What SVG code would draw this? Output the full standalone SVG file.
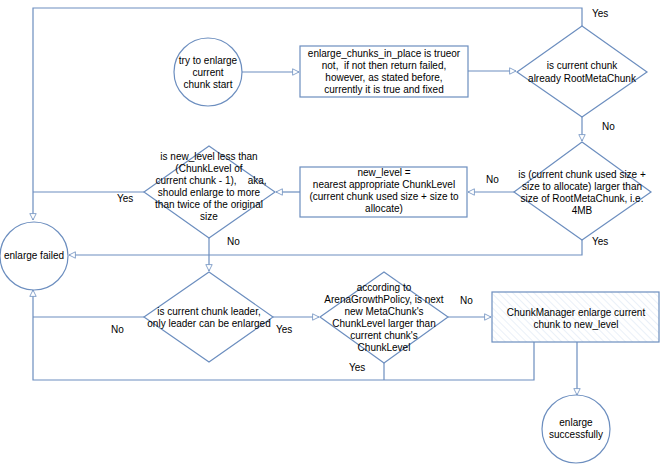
<svg xmlns="http://www.w3.org/2000/svg" width="660" height="464" viewBox="0 0 660 464">
<defs>
<marker id="arr" viewBox="0 0 10 10" refX="9" refY="5" markerWidth="8" markerHeight="8" orient="auto" markerUnits="userSpaceOnUse">
<path d="M1,1 L9,5 L1,9 z" fill="#fff" stroke="#6c8ebf" stroke-width="1"/>
</marker>
<pattern id="hatch" width="5" height="5" patternUnits="userSpaceOnUse" patternTransform="rotate(-45)">
<rect width="5" height="5" fill="#fff"/>
<line x1="0" y1="0" x2="0" y2="5" stroke="#dde6f4" stroke-width="1.2"/>
</pattern>
</defs>
<style>
.n{fill:#fff;stroke:#6c8ebf;stroke-width:1.2}
.c{fill:none;stroke:#6c8ebf;stroke-width:1.2}
.t{font-family:"Liberation Sans",Arial,sans-serif;font-size:10px;fill:#000;text-anchor:middle}
.l{font-family:"Liberation Sans",Arial,sans-serif;font-size:10px;fill:#000}
</style>
<g id="connectors">
<polyline class="c" points="582,26 582,8 33,8 33,220" marker-end="url(#arr)"/>
<line class="c" x1="242" y1="72" x2="299" y2="72" marker-end="url(#arr)"/>
<line class="c" x1="468" y1="71" x2="516" y2="71" marker-end="url(#arr)"/>
<line class="c" x1="582" y1="117" x2="582" y2="141" marker-end="url(#arr)"/>
<line class="c" x1="514" y1="192" x2="468" y2="192" marker-end="url(#arr)"/>
<line class="c" x1="300" y1="192" x2="276" y2="192" marker-end="url(#arr)"/>
<polyline class="c" points="144,192 33,192"/>
<polyline class="c" points="582,240 582,255 69,255" marker-end="url(#arr)"/>
<line class="c" x1="209" y1="238" x2="209" y2="271" marker-end="url(#arr)"/>
<polyline class="c" points="144,317 33,317"/>
<polyline class="c" points="534,342 534,380 33,380 33,290" marker-end="url(#arr)"/>
<line class="c" x1="384" y1="363" x2="384" y2="380"/>
<line class="c" x1="273" y1="317" x2="319" y2="317" marker-end="url(#arr)"/>
<line class="c" x1="448" y1="317" x2="491" y2="317" marker-end="url(#arr)"/>
<line class="c" x1="577" y1="342" x2="577" y2="395" marker-end="url(#arr)"/>
<text class="l" x="592" y="17">Yes</text>
<text class="l" x="602" y="130">No</text>
<text class="l" x="486" y="183">No</text>
<text class="l" x="592" y="245">Yes</text>
<text class="l" x="117" y="202">Yes</text>
<text class="l" x="227" y="245">No</text>
<text class="l" x="111" y="333">No</text>
<text class="l" x="276" y="333">Yes</text>
<text class="l" x="349" y="371">Yes</text>
<text class="l" x="460" y="304">No</text>
</g>
<g id="start">
<circle class="n" cx="208" cy="72" r="34"/>
<text class="t" x="208" y="64">try to enlarge</text>
<text class="t" x="208" y="76">current</text>
<text class="t" x="208" y="88">chunk start</text>
</g>
<g id="check-inplace">
<rect class="n" x="300" y="46" width="168" height="51"/>
<text class="t" x="384" y="57">enlarge_chunks_in_place is trueor</text>
<text class="t" x="384" y="69" xml:space="preserve">not,  if not then return failed,</text>
<text class="t" x="384" y="81">however, as stated before,</text>
<text class="t" x="384" y="93">currently it is true and fixed</text>
</g>
<g id="is-root">
<polygon class="n" points="582,26 647,72 582,117 517,72"/>
<text class="t" x="582" y="69">is current chunk</text>
<text class="t" x="582" y="82">already RootMetaChunk</text>
</g>
<g id="larger-than-root">
<polygon class="n" points="582,142 651,192 582,240 514,192"/>
<text class="t" x="582" y="178">is (current chunk used size +</text>
<text class="t" x="582" y="190">size to allocate) larger than</text>
<text class="t" x="582" y="202">size of RootMetaChunk, i.e.</text>
<text class="t" x="582" y="214">4MB</text>
</g>
<g id="new-level">
<rect class="n" x="300" y="167" width="167" height="50"/>
<text class="t" x="384" y="176">new_level =</text>
<text class="t" x="384" y="188">nearest appropriate ChunkLevel</text>
<text class="t" x="384" y="200">(current chunk used size + size to</text>
<text class="t" x="384" y="212">allocate)</text>
</g>
<g id="less-than">
<polygon class="n" points="209,146 275,192 209,238 144,192"/>
<text class="t" x="209" y="160">is new_level less than</text>
<text class="t" x="209" y="172">(ChunkLevel of</text>
<text class="t" x="211" y="184" xml:space="preserve">current chunk - 1),    aka,</text>
<text class="t" x="209" y="196">should enlarge to more</text>
<text class="t" x="209" y="208">than twice of the original</text>
<text class="t" x="209" y="220">size</text>
</g>
<g id="failed">
<ellipse class="n" cx="34" cy="256" rx="34" ry="34"/>
<text class="t" x="34" y="259">enlarge failed</text>
</g>
<g id="is-leader">
<polygon class="n" points="209,272 273,317 209,362 144,317"/>
<text class="t" x="209" y="315">is current chunk leader,</text>
<text class="t" x="209" y="327">only leader can be enlarged</text>
</g>
<g id="growth-policy">
<polygon class="n" points="384,272 448,317 384,363 320,317"/>
<text class="t" x="384" y="291">according to</text>
<text class="t" x="384" y="303">ArenaGrowthPolicy, is next</text>
<text class="t" x="384" y="315">new MetaChunk's</text>
<text class="t" x="384" y="327">ChunkLevel larger than</text>
<text class="t" x="384" y="339">current chunk's</text>
<text class="t" x="384" y="351">ChunkLevel</text>
</g>
<g id="enlarge">
<rect x="492" y="292" width="167" height="50" fill="url(#hatch)" stroke="#6c8ebf" stroke-width="1.2"/>
<text class="t" x="576" y="316">ChunkManager enlarge current</text>
<text class="t" x="576" y="328">chunk to new_level</text>
</g>
<g id="success">
<circle class="n" cx="576" cy="429" r="34"/>
<text class="t" x="576" y="426">enlarge</text>
<text class="t" x="576" y="438">successfully</text>
</g>
</svg>
